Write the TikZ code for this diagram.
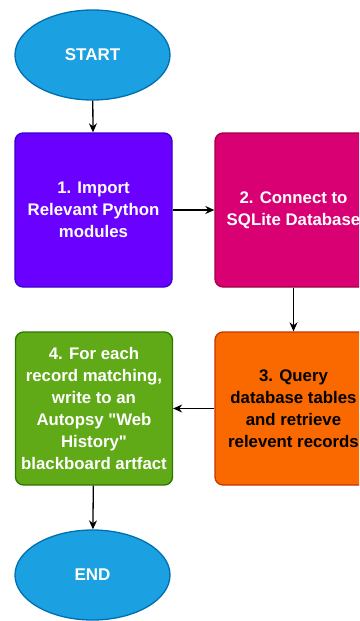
\documentclass[tikz,border=0pt]{standalone}
\usepackage{fontspec}
\newfontfamily\arialf{Liberation Sans}
\usetikzlibrary{shapes.geometric,arrows.meta}
\definecolor{bluefill}{HTML}{1BA1E2}
\definecolor{bluedraw}{HTML}{006EAF}
\definecolor{purfill}{HTML}{6A00FF}
\definecolor{purdraw}{HTML}{3700CC}
\definecolor{magfill}{HTML}{D80073}
\definecolor{magdraw}{HTML}{A50040}
\definecolor{orfill}{HTML}{FA6800}
\definecolor{ordraw}{HTML}{C73500}
\definecolor{grfill}{HTML}{60A917}
\definecolor{grdraw}{HTML}{2D7600}
\tikzset{
  x=1pt, y=1pt,
  txt/.style={font=\arialf\bfseries\fontsize{16.8}{22}\selectfont, align=center},
  term/.style={ellipse, draw=bluedraw, fill=bluefill, line width=1.3pt,
    minimum width=155pt, minimum height=90pt, inner sep=0pt, text=white,
    font=\arialf\bfseries\fontsize{17}{20}\selectfont},
  stepbox/.style={txt, rectangle, rounded corners=8pt, line width=1.3pt,
    minimum width=157pt, minimum height=154pt, inner sep=0pt},
  conn/.style={line width=1.3pt, -{Stealth[length=9pt,width=8pt]}}
}
\begin{document}
\begin{tikzpicture}
\useasboundingbox (0,0) rectangle (359,-621);
\begin{scope}
\clip (0,0) rectangle (359,-621);
\node[term] (start) at (92.5,-55) {START};
\node[stepbox, fill=purfill, draw=purdraw, text=white] (b1) at (93.5,-210)
  {1. Import\\Relevant Python\\modules};
\node[stepbox, fill=magfill, draw=magdraw, text=white] (b2) at (293.5,-210)
  {2. Connect to\\SQLite Database};
\node[stepbox, fill=orfill, draw=ordraw, text=black, minimum height=153pt] (b3) at (293.5,-408.5)
  {3. Query\\database tables\\and retrieve\\relevent records};
\node[stepbox, fill=grfill, draw=grdraw, text=white, minimum height=153pt] (b4) at (94,-408.5)
  {4. For each\\record matching,\\write to an\\Autopsy "Web\\History"\\blackboard artfact};
\node[term] (end) at (92.5,-575) {END};
\draw[conn] (start) -- (b1);
\draw[conn] (b1) -- (b2);
\draw[conn] (b2) -- (b3);
\draw[conn] (b3) -- (b4);
\draw[conn] (b4) -- (end);
\end{scope}
\end{tikzpicture}
\end{document}
